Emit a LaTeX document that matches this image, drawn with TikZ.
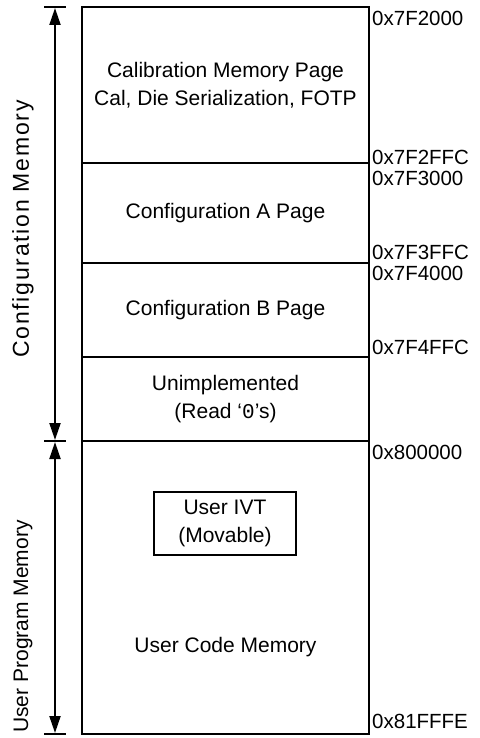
\documentclass[tikz,border=0pt]{standalone}
\usepackage{fontspec}
\setmainfont{Liberation Sans}
\setmonofont{Liberation Mono}
\newfontfamily\widefont[LetterSpace=7.5]{Liberation Sans}
\usetikzlibrary{
    arrows.meta,
    positioning
}

\begin{document}
\begin{tikzpicture}[
        x=1pt, y=-1pt,
        >={Triangle[length=17pt,width=11pt]},
        region/.style={
            draw,
            line width=2pt,
            minimum width=287pt,
            inner sep=0pt,
            align=center,
            font=\fontsize{21}{28}\selectfont
        },
        addr/.style={
            anchor=west,
            inner sep=0pt,
            font=\fontsize{20.5}{24}\selectfont
        },
        side/.style={
            rotate=90,
            inner sep=0pt,
            font=\fontsize{21}{26}\selectfont
        }
    ]
        \useasboundingbox (0,0) rectangle (479,738);
        % memory regions
        \node[region, minimum height=156pt] (cal) at (225.5,85)
            {Calibration Memory Page\\Cal, Die Serialization, FOTP};
        \node[region, minimum height=100pt] (cfga) at (225.5,213)
            {Configuration A Page};
        \node[region, minimum height=94pt] (cfgb) at (225.5,310)
            {Configuration B Page};
        \node[region, minimum height=84pt] (unimp) at (225.5,399)
            {Unimplemented\\(Read ‘{\ttfamily 0}’s)};
        \node[region, minimum height=293pt] (user) at (225.5,587.5) {};
        \node[region, draw=none] (ucm) at (225.5,647) {User Code Memory};
        \node[region, minimum width=142pt, minimum height=63pt] (ivt)
            at (225,523.5) {User IVT\\(Movable)};
        % addresses
        \node[addr] (a1) at (372,18.5) {0x7F2000};
        \node[addr] (a2) at (372,157) {0x7F2FFC};
        \node[addr] (a3) at (372,178) {0x7F3000};
        \node[addr] (a4) at (372,252.5) {0x7F3FFC};
        \node[addr] (a5) at (372,273.5) {0x7F4000};
        \node[addr] (a6) at (372,347) {0x7F4FFC};
        \node[addr] (a7) at (372,452) {0x800000};
        \node[addr] (a8) at (372,721) {0x81FFFE};
        % spans
        \coordinate (ctop) at (55,7);
        \coordinate (cmid) at (55,441);
        \coordinate (cbot) at (55,734);
        \draw[line width=2pt] (ctop) ++(-11,0) -- ++(22,0);
        \draw[line width=2pt] (cmid) ++(-11,0) -- ++(22,0);
        \draw[line width=2pt] (cbot) ++(-11,0) -- ++(22,0);
        \draw[<->, line width=2pt, shorten <=1pt, shorten >=1pt]
            (ctop) -- (cmid);
        \draw[<->, line width=2pt, shorten <=1pt, shorten >=1pt]
            (cmid) -- (cbot);
        \node[side, font=\widefont\fontsize{23}{26}\selectfont] (cfgmem)
            at (23,229) {Configuration Memory};
        \node[side] (usrmem) at (23,626.5) {User Program Memory};
    \end{tikzpicture}
\end{document}
